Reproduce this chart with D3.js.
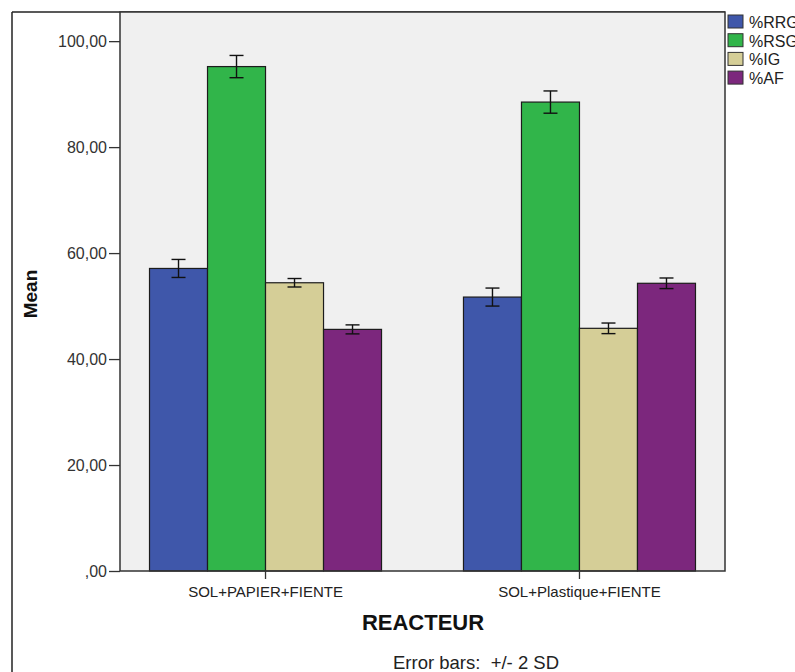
<!DOCTYPE html>
<html><head><meta charset="utf-8">
<script src="https://cdn.jsdelivr.net/npm/d3@7"></script>
<style>body{margin:0;background:#fff}svg{display:block;font-family:"Liberation Sans",Arial,sans-serif}</style>
</head><body>
<script>
const categories = ["SOL+PAPIER+FIENTE", "SOL+Plastique+FIENTE"];
const seriesNames = ["%RRG", "%RSG", "%IG", "%AF"];
const seriesColors = ["#3f57aa", "#31b54a", "#d5ce97", "#7c277d"];
const rrg = [57.1, 51.7];
const rsg = [95.2, 88.5];
const ig = [54.4, 45.8];
const af = [45.6, 54.3];
const rrgErr = [1.7, 1.7];
const rsgErr = [2.1, 2.1];
const igErr = [0.8, 1.0];
const afErr = [0.85, 1.0];
const yTicks = [0, 20, 40, 60, 80, 100];
const yTickLabels = [",00", "20,00", "40,00", "60,00", "80,00", "100,00"];

const seriesValues = [rrg, rsg, ig, af];
const seriesErrs = [rrgErr, rsgErr, igErr, afErr];

const W = 795, H = 672;
const L = 120, R = 725, T = 12, B = 571;
const svg = d3.select("body").append("svg").attr("width", W).attr("height", H);

// outer frame
svg.append("line").attr("x1", 12).attr("x2", R).attr("y1", 12).attr("y2", 12).attr("stroke", "#222").attr("stroke-width", 1.5);
svg.append("line").attr("x1", 12).attr("x2", 12).attr("y1", 12).attr("y2", H).attr("stroke", "#222").attr("stroke-width", 1.5);

const y = d3.scaleLinear().domain([0, 105.5]).range([B, T]);
const x = d3.scaleBand().domain(categories).range([L, R]).paddingInner(0.261).paddingOuter(0.094);
const xs = d3.scaleBand().domain(seriesNames).range([0, x.bandwidth()]);

svg.append("rect").attr("x", L).attr("y", T).attr("width", R - L).attr("height", B - T).attr("fill", "#f0f0f0");

const rows = [];
categories.forEach((c, ci) => seriesNames.forEach((s, si) => rows.push({c, s, si, v: seriesValues[si][ci], e: seriesErrs[si][ci]})));

svg.append("g").selectAll("rect").data(rows).join("rect")
  .attr("x", d => x(d.c) + xs(d.s))
  .attr("y", d => y(d.v))
  .attr("width", xs.bandwidth())
  .attr("height", d => B - y(d.v))
  .attr("fill", d => seriesColors[d.si])
  .attr("stroke", "#1c1c1c").attr("stroke-width", 1.2);

const eg = svg.append("g").attr("stroke", "#111").attr("stroke-width", 1.4);
rows.forEach(d => {
  const cx = x(d.c) + xs(d.s) + xs.bandwidth() / 2;
  eg.append("line").attr("x1", cx).attr("x2", cx).attr("y1", y(d.v + d.e)).attr("y2", y(d.v - d.e));
  [d.v + d.e, d.v - d.e].forEach(v => eg.append("line").attr("x1", cx - 7).attr("x2", cx + 7).attr("y1", y(v)).attr("y2", y(v)));
});

// plot border
svg.append("rect").attr("x", L).attr("y", T).attr("width", R - L).attr("height", B - T).attr("fill", "none").attr("stroke", "#333").attr("stroke-width", 1.5);

// y axis
const yAxis = d3.axisLeft(y).tickValues(yTicks).tickFormat((d, i) => yTickLabels[i]).tickSize(11).tickPadding(2);
const ya = svg.append("g").attr("transform", `translate(${L},0)`).call(yAxis);
ya.select(".domain").remove();
ya.selectAll("line").attr("stroke", "#333").attr("stroke-width", 1.3);
ya.selectAll("text").attr("font-size", 16).attr("fill", "#333").attr("font-family", "Liberation Sans, Arial, sans-serif");

// x axis
const xAxis = d3.axisBottom(x).tickSize(8).tickPadding(7);
const xa = svg.append("g").attr("transform", `translate(0,${B})`).call(xAxis);
xa.select(".domain").remove();
xa.selectAll("line").attr("stroke", "#333").attr("stroke-width", 1.3);
xa.selectAll("text").attr("font-size", 15).attr("fill", "#222").attr("font-family", "Liberation Sans, Arial, sans-serif");

// titles
svg.append("text").attr("x", 423).attr("y", 630).attr("text-anchor", "middle").attr("font-size", 22).attr("font-weight", "bold").attr("fill", "#111").text("REACTEUR");
svg.append("text").attr("transform", "translate(37,294) rotate(-90)").attr("text-anchor", "middle").attr("font-size", 19).attr("font-weight", "bold").attr("fill", "#111").text("Mean");
svg.append("text").attr("x", 393).attr("y", 669).attr("font-size", 18.5).attr("fill", "#222").style("white-space", "pre").text("Error bars:  +/- 2 SD");

// legend
const lg = svg.append("g");
seriesNames.forEach((s, i) => {
  const yy = 15 + i * 18.7;
  lg.append("rect").attr("x", 728).attr("y", yy).attr("width", 15).attr("height", 13).attr("fill", seriesColors[i]).attr("stroke", "#333").attr("stroke-width", 1);
  lg.append("text").attr("x", 749).attr("y", yy + 13).attr("font-size", 16).attr("fill", "#222").text(s);
});
</script>
</body></html>
